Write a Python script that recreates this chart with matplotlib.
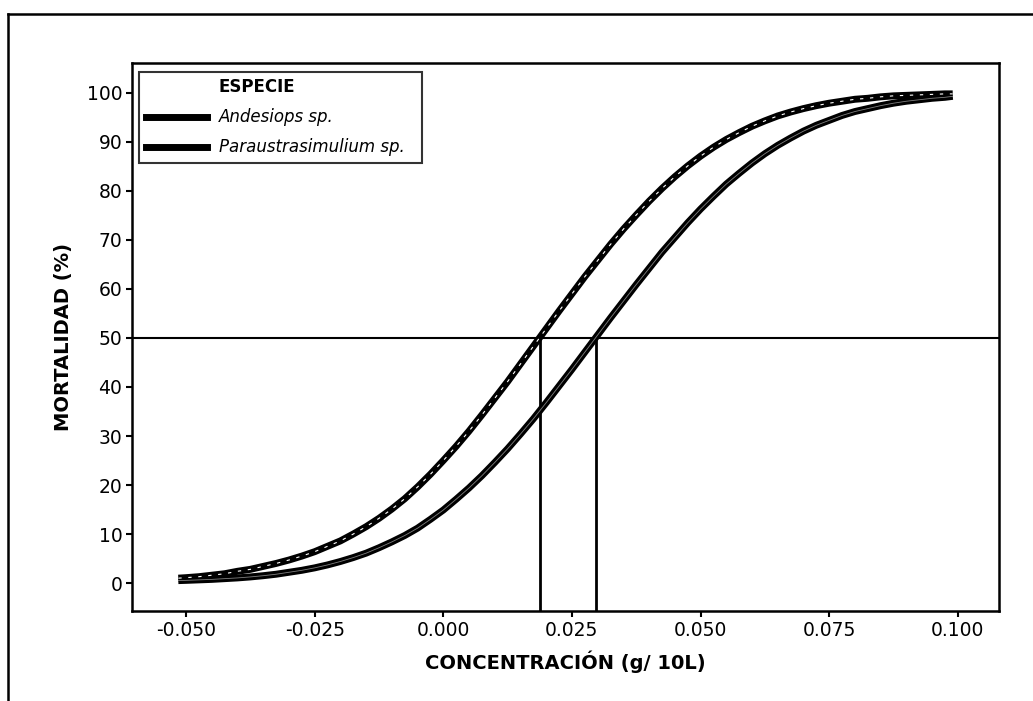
import matplotlib
matplotlib.use("Agg")
import matplotlib.pyplot as plt
from matplotlib.lines import Line2D

# concentration (g/10L) where the curves were read
conc = [-0.0515, -0.0500, -0.0475, -0.0450, -0.0425, -0.0400, -0.0375, -0.0350, -0.0325, -0.0300,
        -0.0275, -0.0250, -0.0225, -0.0200, -0.0175, -0.0150, -0.0125, -0.0100, -0.0075, -0.0050,
        -0.0025, 0.0000, 0.0025, 0.0050, 0.0075, 0.0100, 0.0125, 0.0150, 0.0175, 0.0200,
        0.0225, 0.0250, 0.0275, 0.0300, 0.0325, 0.0350, 0.0375, 0.0400, 0.0425, 0.0450,
        0.0475, 0.0500, 0.0525, 0.0550, 0.0575, 0.0600, 0.0625, 0.0650, 0.0675, 0.0700,
        0.0725, 0.0750, 0.0775, 0.0800, 0.0825, 0.0850, 0.0875, 0.0900, 0.0925, 0.0950,
        0.0975, 0.0990]

# mortality (%)
mort_parau = [1.0, 1.1, 1.3, 1.6, 1.9, 2.4, 2.8, 3.4, 4.0, 4.7,
              5.5, 6.4, 7.5, 8.6, 10.0, 11.5, 13.2, 15.1, 17.2, 19.6,
              22.2, 25.0, 27.9, 31.0, 34.3, 37.7, 41.1, 44.7, 48.3, 51.9,
              55.5, 59.0, 62.5, 65.8, 69.1, 72.2, 75.1, 77.9, 80.5, 82.9,
              85.1, 87.1, 88.9, 90.5, 91.9, 93.2, 94.3, 95.3, 96.1, 96.8,
              97.4, 97.9, 98.3, 98.7, 98.9, 99.2, 99.4, 99.5, 99.6, 99.7,
              99.8, 99.8]
mort_andes = [0.5, 0.55, 0.65, 0.75, 0.9, 1.05, 1.25, 1.5, 1.8, 2.2,
              2.6, 3.1, 3.7, 4.4, 5.2, 6.1, 7.2, 8.4, 9.7, 11.2,
              13.0, 14.9, 17.1, 19.4, 21.9, 24.6, 27.4, 30.4, 33.5, 36.8,
              40.2, 43.6, 47.1, 50.6, 54.1, 57.5, 60.9, 64.2, 67.5, 70.5,
              73.5, 76.3, 78.9, 81.4, 83.6, 85.7, 87.6, 89.3, 90.8, 92.2,
              93.4, 94.4, 95.4, 96.2, 96.8, 97.4, 97.9, 98.3, 98.6, 98.9,
              99.1, 99.3]

# LC50
lc50_parau = 0.0187
lc50_andes = 0.0296

xticks = [-0.050, -0.025, 0.000, 0.025, 0.050, 0.075, 0.100]
xtick_labels = ["-0.050", "-0.025", "0.000", "0.025", "0.050", "0.075", "0.100"]
yticks = [0, 10, 20, 30, 40, 50, 60, 70, 80, 90, 100]

plt.rcParams['font.family'] = ['DejaVu Sans']

fig = plt.figure(figsize=(10.33, 7.01), dpi=100)
ax = fig.add_axes([132/1033, 1 - 611/701, (999 - 132)/1033, (611 - 63)/701])

# outer frame (only left and top edges are visible)
fig.add_artist(Line2D([8/1033, 8/1033], [0, 1 - 14/701], color="black", lw=1.8, transform=fig.transFigure))
fig.add_artist(Line2D([8/1033, 1], [1 - 14/701, 1 - 14/701], color="black", lw=1.8, transform=fig.transFigure))

# reference lines at 50 %
ax.axhline(50, color="black", lw=1.5, zorder=2)
ax.plot([lc50_parau, lc50_parau], [-10, 50], color="black", lw=2, zorder=2)
ax.plot([lc50_andes, lc50_andes], [-10, 50], color="black", lw=2, zorder=2)

# curves: thick black with a thin light core
ax.plot(conc, mort_andes, color="black", lw=5, solid_capstyle="butt", zorder=3)
ax.plot(conc, mort_andes, color="white", lw=0.6, alpha=0.5, zorder=4)
ax.plot(conc, mort_parau, color="black", lw=5, solid_capstyle="butt", zorder=3)
ax.plot(conc, mort_parau, color="white", lw=0.8, ls=(0, (3, 6)), zorder=4)

ax.set_xlim(-0.0605, 0.108)
ax.set_ylim(-5.7, 106.1)
ax.set_xticks(xticks)
ax.set_xticklabels(xtick_labels)
ax.set_yticks(yticks)
ax.tick_params(axis="both", labelsize=13.5, length=4, width=1.5, direction="out", pad=3)
for s in ax.spines.values():
    s.set_linewidth(1.8)

ax.set_xlabel("CONCENTRACIÓN (g/ 10L)", fontsize=14, fontweight="bold", labelpad=8)
ax.set_ylabel("MORTALIDAD (%)", fontsize=14, fontweight="bold", labelpad=10)

# legend
h_title = Line2D([], [], color="none")
h_andes = Line2D([], [], color="black", lw=5)
h_parau = Line2D([], [], color="black", lw=5)
leg = ax.legend([h_title, h_andes, h_parau],
                ["ESPECIE", "Andesiops sp.", "Paraustrasimulium sp.  "],
                loc="upper left", bbox_to_anchor=(0.008, 0.984), fontsize=12,
                handlelength=3.7, handletextpad=0.7, labelspacing=0.72,
                borderpad=0.4, borderaxespad=0, frameon=True, fancybox=False)
leg.get_frame().set_edgecolor("black")
leg.get_frame().set_linewidth(1.5)
texts = leg.get_texts()
texts[0].set_fontweight("bold")
texts[1].set_fontstyle("italic")
texts[2].set_fontstyle("italic")

fig.savefig("out.png", dpi=100, facecolor="white")
